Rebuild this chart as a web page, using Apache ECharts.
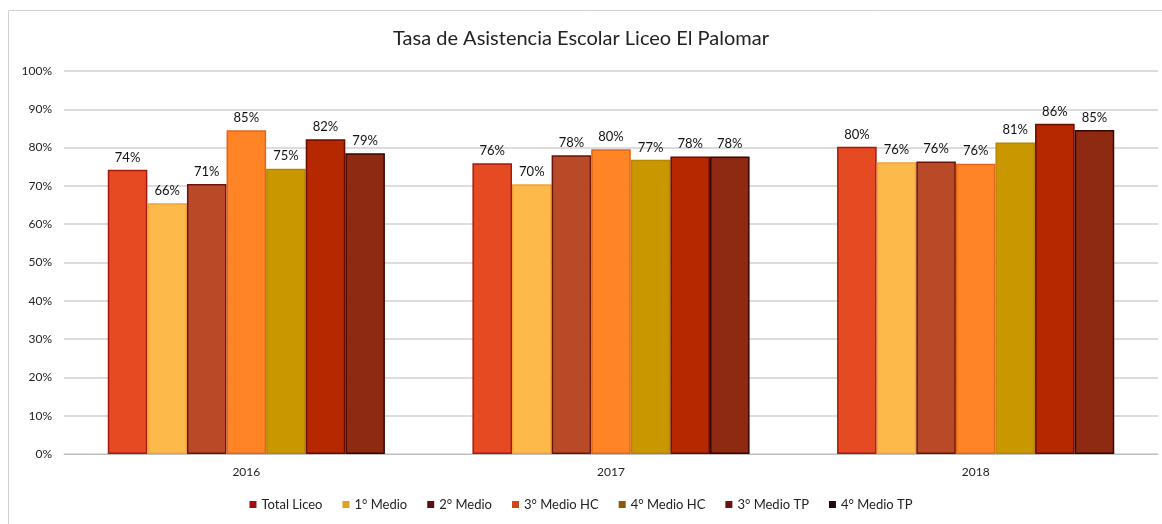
<!DOCTYPE html>
<html>
<head>
<meta charset="utf-8">
<script src="https://cdn.jsdelivr.net/npm/echarts@6/dist/echarts.min.js"></script>
<style>
  html, body { margin: 0; padding: 0; background: #fff; }
  #main { width: 1162px; height: 524px; }
</style>
</head>
<body>
<div id="main"></div>
<script>
// años
let years = ['2016', '2017', '2018'];

// tasa de asistencia por nivel (%)
let totalLiceo = [74.2, 75.9, 80.2];
let medio1 = [65.5, 70.4, 76.2];
let medio2 = [70.5, 78.0, 76.4];
let medio3HC = [84.5, 79.6, 75.8];
let medio4HC = [74.5, 76.8, 81.3];
let medio3TP = [82.2, 77.7, 86.2];
let medio4TP = [78.5, 77.7, 84.6];

let yTicks = [0, 10, 20, 30, 40, 50, 60, 70, 80, 90, 100];

// nombre, datos, color barra, borde, color leyenda
let seriesDef = [
    ['Total Liceo', totalLiceo, '#E64A22', '#A51A0C', '#A00C0C'],
    ['1° Medio', medio1, '#FDB94A', '#F2A236', '#E0A020'],
    ['2° Medio', medio2, '#B84A28', '#6A1408', '#5A1010'],
    ['3° Medio HC', medio3HC, '#FF8426', '#E2661A', '#D04818'],
    ['4° Medio HC', medio4HC, '#C99700', '#B88600', '#8A5A08'],
    ['3° Medio TP', medio3TP, '#B52800', '#6A0A00', '#6A1010'],
    ['4° Medio TP', medio4TP, '#8E2A12', '#3A0500', '#200808']
];

let myChart = echarts.init(document.getElementById('main'));

myChart.setOption({
    animation: false,
    textStyle: { fontFamily: 'Lato, "Open Sans", sans-serif' },
    title: {
        text: 'Tasa de Asistencia Escolar Liceo El Palomar',
        left: 'center',
        top: 24,
        textStyle: { fontWeight: 'normal', fontSize: 20, color: '#222', fontFamily: 'Lato, sans-serif' }
    },
    graphic: [{
        type: 'rect',
        shape: { x: 8.5, y: 10.5, width: 1170, height: 520 },
        style: { fill: 'none', stroke: '#d0d0d0', lineWidth: 1 },
        silent: true
    }],
    legend: {
        bottom: 8,
        left: 'center',
        itemWidth: 7,
        itemHeight: 7,
        itemGap: 20,
        itemStyle: { borderWidth: 0 },
        icon: 'rect',
        textStyle: { fontSize: 13, color: '#222' },
        data: seriesDef.map(s => ({ name: s[0], itemStyle: { color: s[4], borderWidth: 0 } }))
    },
    grid: { left: 64, right: 4, top: 71, bottom: 70 },
    xAxis: {
        type: 'category',
        data: years,
        axisTick: { show: false },
        axisLine: { lineStyle: { color: '#bfbfbf', width: 1 } },
        axisLabel: { color: '#222', fontSize: 12, margin: 12 }
    },
    yAxis: {
        type: 'value',
        min: 0,
        max: 100,
        interval: 10,
        axisLabel: {
            color: '#222',
            fontSize: 12,
            margin: 12,
            formatter: v => yTicks.includes(v) ? v + '%' : ''
        },
        splitLine: { lineStyle: { color: '#d0d0d0', width: 1.5 } }
    },
    series: seriesDef.map(s => ({
        name: s[0],
        type: 'bar',
        data: s[1],
        barGap: '0%',
        barCategoryGap: '24%',
        itemStyle: { color: s[2], borderColor: s[3], borderWidth: 1.5 },
        label: {
            show: true,
            position: 'top',
            distance: 6,
            color: '#111',
            fontSize: 13,
            formatter: p => Math.round(p.value) + '%'
        }
    }))
});
</script>
</body>
</html>
